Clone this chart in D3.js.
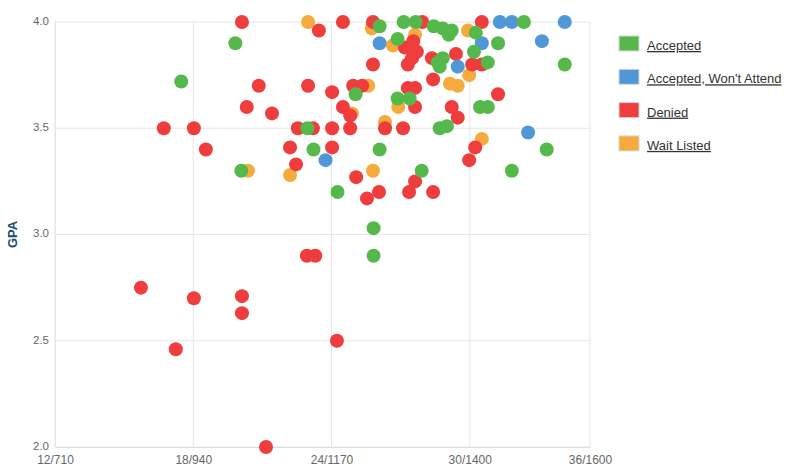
<!DOCTYPE html>
<html>
<head>
<meta charset="utf-8">
<script src="https://cdn.jsdelivr.net/npm/d3@7"></script>
<style>
  body { margin: 0; background: #fff; }
  svg { display: block; font-family: "Liberation Sans", Arial, sans-serif; }
</style>
</head>
<body>
<svg id="chart" width="800" height="467"></svg>
<script>
// Axis ticks (x axis is SAT scale, labelled ACT/SAT)
const xTickValues = [710, 940, 1170, 1400, 1600];
const xTickLabels = ["12/710", "18/940", "24/1170", "30/1400", "36/1600"];
const yTickValues = [2.0, 2.5, 3.0, 3.5, 4.0];

// Points: [SAT, GPA]
const accepted = [
  [920, 3.72], [1010, 3.90], [1020, 3.30], [1130, 3.50], [1140, 3.40],
  [1180, 3.20], [1210, 3.66], [1240, 3.03], [1240, 2.90], [1250, 3.98],
  [1250, 3.40], [1280, 3.92], [1280, 3.64], [1300, 3.64], [1290, 4.00],
  [1310, 4.00], [1340, 3.98], [1355, 3.97], [1370, 3.96], [1365, 3.94],
  [1347, 3.81], [1355, 3.83], [1350, 3.79], [1320, 3.30], [1350, 3.50],
  [1362, 3.51], [1410, 3.95], [1407, 3.86], [1430, 3.81], [1417, 3.60],
  [1430, 3.60], [1447, 3.90], [1490, 4.00], [1470, 3.30], [1528, 3.40],
  [1558, 3.80]
];
const acceptedWontAttend = [
  [1160, 3.35], [1250, 3.90], [1380, 3.79], [1420, 3.90], [1450, 4.00],
  [1470, 4.00], [1497, 3.48], [1520, 3.91], [1558, 4.00]
];
const denied = [
  [853, 2.75], [891, 3.50], [911, 2.46], [941, 3.50], [941, 2.70],
  [961, 3.40], [1021, 4.00], [1021, 2.71], [1021, 2.63], [1029, 3.60],
  [1049, 3.70], [1061, 2.00], [1071, 3.57], [1101, 3.41], [1111, 3.33],
  [1114, 3.50], [1139, 3.50], [1129, 2.90], [1143, 2.90], [1131, 3.70],
  [1149, 3.96], [1171, 3.67], [1171, 3.50], [1171, 3.41], [1179, 2.50],
  [1189, 4.00], [1189, 3.60], [1201, 3.56], [1201, 3.50], [1206, 3.70],
  [1221, 3.70], [1211, 3.27], [1229, 3.17], [1239, 4.00], [1239, 3.80],
  [1249, 3.20], [1259, 3.50], [1289, 3.50], [1292, 3.88], [1306, 3.91],
  [1312, 3.86], [1304, 3.83], [1297, 3.80], [1297, 3.69], [1309, 3.69],
  [1309, 3.60], [1299, 3.20], [1309, 3.25], [1321, 4.00], [1337, 3.83],
  [1339, 3.73], [1339, 3.20], [1377, 3.85], [1404, 3.80], [1420, 3.80],
  [1420, 4.00], [1370, 3.60], [1380, 3.55], [1447, 3.66], [1409, 3.41],
  [1399, 3.35]
];
const waitListed = [
  [1031, 3.30], [1101, 3.28], [1131, 4.00], [1204, 3.57], [1231, 3.70],
  [1237, 3.97], [1239, 3.30], [1259, 3.53], [1272, 3.89], [1281, 3.60],
  [1309, 3.94], [1397, 3.96], [1399, 3.75], [1367, 3.71], [1380, 3.70],
  [1420, 3.45]
];

const series = [
  { name: "Accepted", color: "#55b84b", data: accepted },
  { name: "Accepted, Won't Attend", color: "#4f97d7", data: acceptedWontAttend },
  { name: "Denied", color: "#ef3c3c", data: denied },
  { name: "Wait Listed", color: "#f6aa3e", data: waitListed }
];

const svg = d3.select("#chart");
const plot = { left: 55, right: 590, top: 22, bottom: 447 };

const x = d3.scaleLinear().domain([710, 1600]).range([plot.left, plot.right]);
const y = d3.scaleLinear().domain([2, 4]).range([plot.bottom, plot.top]);

// Grid
const grid = svg.append("g").attr("class", "grid");
grid.selectAll("line.h")
  .data(yTickValues)
  .join("line")
  .attr("class", "h")
  .attr("x1", plot.left).attr("x2", plot.right)
  .attr("y1", d => y(d)).attr("y2", d => y(d))
  .attr("stroke", "#e6e6e6").attr("stroke-width", 1);
grid.selectAll("line.v")
  .data(xTickValues)
  .join("line")
  .attr("class", "v")
  .attr("x1", d => x(d)).attr("x2", d => x(d))
  .attr("y1", plot.top).attr("y2", plot.bottom)
  .attr("stroke", "#e6e6e6").attr("stroke-width", 1);

// Axes
const xAxis = d3.axisBottom(x)
  .tickValues(xTickValues)
  .tickFormat((d, i) => xTickLabels[i])
  .tickSize(0)
  .tickPadding(8);
const gx = svg.append("g")
  .attr("transform", `translate(0,${plot.bottom})`)
  .call(xAxis);
gx.select(".domain").attr("stroke", "#dcdcdc");
gx.selectAll("text").attr("fill", "#666").attr("font-size", "12px");

const yAxis = d3.axisLeft(y)
  .tickValues(yTickValues)
  .tickFormat(d3.format(".1f"))
  .tickSize(0)
  .tickPadding(6);
const gy = svg.append("g")
  .attr("transform", `translate(${plot.left},0)`)
  .call(yAxis);
gy.select(".domain").attr("stroke", "#e6e6e6");
gy.selectAll("text")
  .attr("fill", "#666")
  .attr("font-size", "11.5px")
  .attr("dy", "0.2em");

svg.append("text")
  .attr("transform", `translate(17,${(plot.top + plot.bottom) / 2}) rotate(-90)`)
  .attr("text-anchor", "middle")
  .attr("font-size", "13px")
  .attr("font-weight", "bold")
  .attr("fill", "#174d6c")
  .text("GPA");

// Points: wait listed at bottom, accepted on top
const drawOrder = [3, 2, 1, 0];
drawOrder.forEach(i => {
  const s = series[i];
  svg.append("g")
    .selectAll("circle")
    .data(s.data)
    .join("circle")
    .attr("cx", d => x(d[0]))
    .attr("cy", d => y(d[1]))
    .attr("r", 7)
    .attr("fill", s.color);
});

// Legend
const legend = svg.append("g").attr("transform", "translate(619,36)");
const item = legend.selectAll("g")
  .data(series)
  .join("g")
  .attr("transform", (d, i) => `translate(0,${i * 33.3})`);
item.append("rect")
  .attr("width", 20).attr("height", 15)
  .attr("fill", d => d.color)
  .attr("stroke", "#d8d8d8").attr("stroke-width", 1);
item.append("text")
  .attr("x", 28).attr("y", 14)
  .attr("font-size", "13px")
  .attr("fill", "#333")
  .attr("text-decoration", "underline")
  .text(d => d.name);
</script>
</body>
</html>
